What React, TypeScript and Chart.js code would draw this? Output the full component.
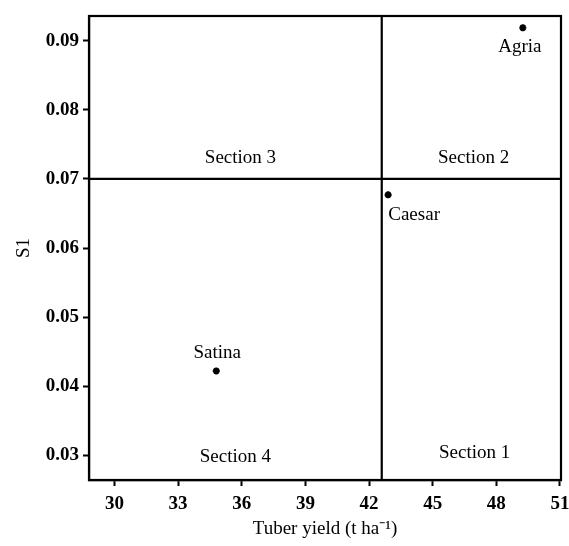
import React, { useEffect, useRef } from "react";
import { Chart, registerables } from "chart.js";

Chart.register(...registerables);

const cultivars = ["Agria", "Caesar", "Satina"];
const tuberYield = [49.25, 42.9, 34.8];
const s1Values = [0.0919, 0.0677, 0.0422];

const splitYield = 42.6;
const splitS1 = 0.07;

const xMin = 28.8;
const xMax = 51.05;
const yMin = 0.0264;
const yMax = 0.0936;

const xTicks = [30, 33, 36, 39, 42, 45, 48, 51];
const yTicks = [0.03, 0.04, 0.05, 0.06, 0.07, 0.08, 0.09];

const sectionNames = ["Section 1", "Section 2", "Section 3", "Section 4"];
const sectionX = [46.98, 46.93, 35.94, 35.7];
const sectionY = [0.0303, 0.073, 0.073, 0.0297];

// pixel offsets of the point labels (style only)
const labelOffsets: [number, number][] = [
  [-3, 19],
  [26, 20],
  [1, -18],
];

const FONT = "'Liberation Serif', 'Times New Roman', serif";

const annotatePlugin = {
  id: "annotate",
  afterDraw(chart: any) {
    const { ctx, chartArea, scales } = chart;
    const xs = scales.x;
    const ys = scales.y;
    ctx.save();
    ctx.strokeStyle = "#000";
    ctx.lineWidth = 2.2;
    ctx.strokeRect(
      chartArea.left,
      chartArea.top,
      chartArea.right - chartArea.left,
      chartArea.bottom - chartArea.top
    );
    ctx.fillStyle = "#000";
    ctx.textAlign = "center";
    ctx.textBaseline = "middle";
    ctx.font = `19px ${FONT}`;
    sectionNames.forEach((n, i) => {
      ctx.fillText(n, xs.getPixelForValue(sectionX[i]), ys.getPixelForValue(sectionY[i]));
    });
    cultivars.forEach((n, i) => {
      const [dx, dy] = labelOffsets[i];
      ctx.fillText(
        n,
        xs.getPixelForValue(tuberYield[i]) + dx,
        ys.getPixelForValue(s1Values[i]) + dy
      );
    });
    ctx.restore();
  },
};

export default function App() {
  const ref = useRef<HTMLCanvasElement | null>(null);
  useEffect(() => {
    if (!ref.current) return;
    const chart = new Chart(ref.current, {
      type: "scatter",
      data: {
        datasets: [
          {
            label: "Cultivars",
            data: tuberYield.map((x, i) => ({ x, y: s1Values[i] })),
            pointStyle: "star",
            radius: 3.5,
            borderWidth: 2.2,
            borderColor: "#000",
            backgroundColor: "#000",
          },
          {
            label: "vsplit",
            data: [
              { x: splitYield, y: yMin },
              { x: splitYield, y: yMax },
            ],
            showLine: true,
            borderColor: "#000",
            borderWidth: 2.2,
            pointRadius: 0,
          },
          {
            label: "hsplit",
            data: [
              { x: xMin, y: splitS1 },
              { x: xMax, y: splitS1 },
            ],
            showLine: true,
            borderColor: "#000",
            borderWidth: 2.2,
            pointRadius: 0,
          },
        ],
      },
      options: {
        responsive: true,
        maintainAspectRatio: false,
        animation: false,
        layout: { padding: { top: 16, left: 0, right: 8, bottom: 0 } },
        plugins: {
          legend: { display: false },
          tooltip: { enabled: false },
        },
        scales: {
          x: {
            type: "linear",
            min: xMin,
            max: xMax,
            afterBuildTicks(scale: any) {
              scale.ticks = xTicks.map((v) => ({ value: v }));
            },
            afterFit(scale: any) {
              scale.paddingLeft = 0;
              scale.paddingRight = 0;
              scale.height = 66;
            },
            ticks: {
              color: "#000",
              font: { family: FONT, size: 19, weight: "bold" },
              padding: 7,
              maxRotation: 0,
            },
            grid: {
              drawOnChartArea: false,
              drawTicks: true,
              tickLength: 6,
              tickWidth: 2,
              tickColor: "#000",
            },
            border: { color: "#000", width: 2.2 },
            title: {
              display: true,
              text: "Tuber yield (t ha\u207B\u00B9)",
              color: "#000",
              font: { family: FONT, size: 19 },
              padding: { top: 4, bottom: 6 },
            },
          },
          y: {
            type: "linear",
            min: yMin,
            max: yMax,
            afterBuildTicks(scale: any) {
              scale.ticks = yTicks.map((v) => ({ value: v }));
            },
            afterFit(scale: any) {
              scale.width = 89;
              scale.paddingTop = 0;
              scale.paddingBottom = 0;
            },
            ticks: {
              color: "#000",
              font: { family: FONT, size: 19, weight: "bold" },
              padding: 4,
              callback: (v: any) => Number(v).toFixed(2),
            },
            grid: {
              drawOnChartArea: false,
              drawTicks: true,
              tickLength: 6,
              tickWidth: 2,
              tickColor: "#000",
            },
            border: { color: "#000", width: 2.2 },
            title: {
              display: true,
              text: "S1",
              color: "#000",
              font: { family: FONT, size: 19 },
              padding: { top: 13, bottom: 5 },
            },
          },
        },
      },
      plugins: [annotatePlugin],
    });
    return () => chart.destroy();
  }, []);
  return (
    <div style={{ position: "absolute", left: 0, top: 0, width: 569, height: 546 }}>
      <canvas ref={ref} />
    </div>
  );
}
